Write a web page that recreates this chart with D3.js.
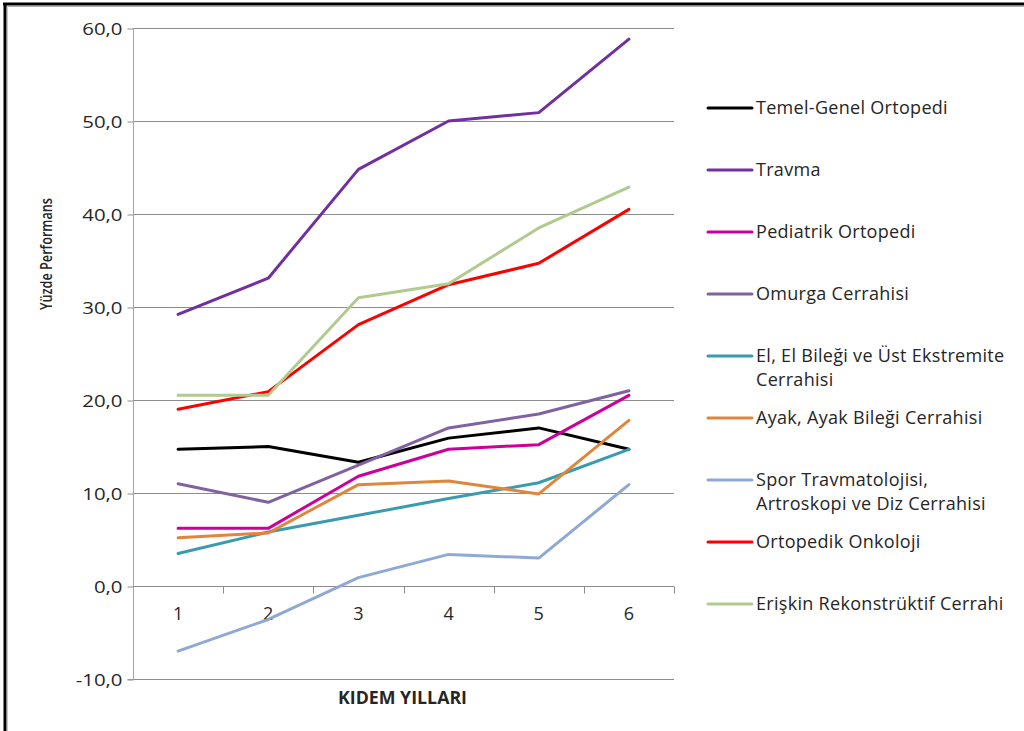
<!DOCTYPE html>
<html>
<head>
<meta charset="utf-8">
<script src="https://cdn.jsdelivr.net/npm/d3@7/dist/d3.min.js"></script>
<style>
  html, body { margin: 0; padding: 0; background: #fff; }
  svg { display: block; }
  text { font-family: "Open Sans", "Noto Sans", sans-serif; fill: #262626; }
</style>
</head>
<body>
<svg id="chart" width="1024" height="731"></svg>
<script>
// Seniority years on the x axis
const years = [1, 2, 3, 4, 5, 6];

// Series names (legend order)
const seriesNames = [
  "Temel-Genel Ortopedi",
  "Travma",
  "Pediatrik Ortopedi",
  "Omurga Cerrahisi",
  "El, El Bileği ve Üst Ekstremite Cerrahisi",
  "Ayak, Ayak Bileği Cerrahisi",
  "Spor Travmatolojisi, Artroskopi ve Diz Cerrahisi",
  "Ortopedik Onkoloji",
  "Erişkin Rekonstrüktif Cerrahi"
];

const seriesColors = [
  "#000000", "#7030A0", "#CC0099", "#7F62A0", "#3A9BB0",
  "#E0853C", "#8FA9D5", "#FF0000", "#B2CA8F"
];

// Percentage performance per year
const temelGenel  = [14.7, 15.0, 13.3, 15.9, 17.0, 14.7];
const travma      = [29.2, 33.1, 44.8, 50.0, 50.9, 58.8];
const pediatrik   = [6.2, 6.2, 11.8, 14.7, 15.2, 20.5];
const omurga      = [11.0, 9.0, 13.0, 17.0, 18.5, 21.0];
const elBilegi    = [3.5, 5.8, 7.6, 9.4, 11.1, 14.7];
const ayakBilegi  = [5.2, 5.7, 10.9, 11.3, 9.9, 17.8];
const spor        = [-7.0, -3.6, 0.9, 3.4, 3.0, 10.9];
const onkoloji    = [19.0, 20.9, 28.1, 32.4, 34.7, 40.5];
const eriskin     = [20.5, 20.5, 31.0, 32.5, 38.5, 42.9];

const seriesValues = [temelGenel, travma, pediatrik, omurga, elBilegi,
                      ayakBilegi, spor, onkoloji, eriskin];

// Y axis ticks
const yTicks = [-10, 0, 10, 20, 30, 40, 50, 60];
const yTickLabels = ["-10,0", "0,0", "10,0", "20,0", "30,0", "40,0", "50,0", "60,0"];

const xTitle = "KIDEM YILLARI";
const yTitle = "Yüzde Performans";

const svg = d3.select("#chart");

// Frame along the top and left edges
svg.append("line").attr("x1", 3).attr("x2", 1024).attr("y1", 4).attr("y2", 4)
  .attr("stroke", "#000").attr("stroke-width", 3);
svg.append("line").attr("x1", 4.5).attr("x2", 1024).attr("y1", 6.5).attr("y2", 6.5)
  .attr("stroke", "#b0b0b0").attr("stroke-width", 1);
svg.append("line").attr("x1", 5).attr("x2", 5).attr("y1", 3).attr("y2", 731)
  .attr("stroke", "#000").attr("stroke-width", 3);
svg.append("line").attr("x1", 7.5).attr("x2", 7.5).attr("y1", 6).attr("y2", 731)
  .attr("stroke", "#c8c8c8").attr("stroke-width", 1);

const plot = { left: 133, right: 674, top: 28, bottom: 679 };

const x = d3.scaleBand().domain(years).range([plot.left, plot.right]);
const y = d3.scaleLinear().domain([-10, 60]).range([plot.bottom, plot.top]);

// Horizontal gridlines
svg.append("g")
  .selectAll("line")
  .data(yTicks)
  .join("line")
  .attr("x1", plot.left).attr("x2", plot.right)
  .attr("y1", d => Math.round(y(d)) + 0.5).attr("y2", d => Math.round(y(d)) + 0.5)
  .attr("stroke", "#8c8c8c").attr("stroke-width", 1);

// Y axis
const yAxis = svg.append("g")
  .attr("transform", `translate(${plot.left + 0.5},0.5)`)
  .call(d3.axisLeft(y).tickValues(yTicks).tickSize(6).tickPadding(4)
        .tickFormat((d, i) => yTickLabels[i]));
yAxis.select(".domain").attr("stroke", "#a6a6a6").attr("d", `M-6,${Math.round(plot.bottom)}H0V${Math.round(plot.top)}`);
yAxis.selectAll(".tick line").attr("stroke", "#8c8c8c").attr("transform", (d) => `translate(0,${Math.round(y(d)) - y(d)})`);
yAxis.selectAll(".tick text")
  .attr("x", 0)
  .attr("dy", "0.36em")
  .attr("transform", "translate(-11,0) scale(1.2,1)")
  .style("font-family", "'Open Sans', sans-serif")
  .style("font-size", "17px")
  .attr("fill", "#333");

// X axis at zero, with tick marks between categories
const x0 = Math.round(y(0)) + 0.5;
const xAxisG = svg.append("g");
xAxisG.append("line")
  .attr("x1", plot.left).attr("x2", plot.right).attr("y1", x0).attr("y2", x0)
  .attr("stroke", "#8c8c8c");
xAxisG.selectAll("line.tick")
  .data(years)
  .join("line")
  .attr("class", "tick")
  .attr("x1", d => Math.round(x(d) + x.bandwidth()) + 0.5)
  .attr("x2", d => Math.round(x(d) + x.bandwidth()) + 0.5)
  .attr("y1", x0).attr("y2", x0 + 7)
  .attr("stroke", "#8c8c8c");
xAxisG.selectAll("text")
  .data(years)
  .join("text")
  .attr("x", d => x(d) + x.bandwidth() / 2)
  .attr("y", x0 + 33)
  .attr("text-anchor", "middle")
  .style("font-size", "18px")
  .attr("fill", "#333")
  .text(d => d);

// Series lines
const lineGen = d3.line()
  .x((d, i) => x(years[i]) + x.bandwidth() / 2)
  .y(d => y(d));

svg.append("g")
  .selectAll("path")
  .data(seriesValues)
  .join("path")
  .attr("d", d => lineGen(d))
  .attr("fill", "none")
  .attr("stroke", (d, i) => seriesColors[i])
  .attr("stroke-width", 3)
  .attr("stroke-linejoin", "round")
  .attr("stroke-linecap", "round");

// Axis titles (condensed to the available width)
svg.append("text")
  .attr("x", 338).attr("y", 704)
  .attr("textLength", 129).attr("lengthAdjust", "spacingAndGlyphs")
  .style("font-size", "18px").style("font-weight", "700")
  .attr("fill", "#000")
  .text(xTitle);

svg.append("text")
  .attr("transform", "translate(52,310) rotate(-90)")
  .attr("textLength", 112).attr("lengthAdjust", "spacingAndGlyphs")
  .style("font-size", "17px").style("font-weight", "600")
  .attr("fill", "#000")
  .text(yTitle);

// Legend
const legend = { x1: 708, x2: 752, textX: 756, top: 108, step: 62, lineH: 24, maxW: 262 };
const legendRow = svg.append("g")
  .selectAll("g")
  .data(seriesNames)
  .join("g")
  .attr("transform", (d, i) => `translate(0,${legend.top + i * legend.step})`);

legendRow.append("line")
  .attr("x1", legend.x1).attr("x2", legend.x2)
  .attr("y1", 0).attr("y2", 0)
  .attr("stroke", (d, i) => seriesColors[i])
  .attr("stroke-width", 3)
  .attr("stroke-linecap", "round");

legendRow.each(function (name) {
  const g = d3.select(this);
  const t = g.append("text")
    .attr("x", legend.textX).attr("y", 6)
    .style("font-size", "18px")
    .style("letter-spacing", "0.3px")
    .attr("fill", "#262626");
  // word wrap within the legend width
  const words = name.split(" ");
  let line = [];
  let tspan = t.append("tspan").attr("x", legend.textX).attr("dy", 0);
  words.forEach(w => {
    line.push(w);
    tspan.text(line.join(" "));
    if (tspan.node().getComputedTextLength() > legend.maxW && line.length > 1) {
      line.pop();
      tspan.text(line.join(" "));
      line = [w];
      tspan = t.append("tspan").attr("x", legend.textX).attr("dy", legend.lineH).text(w);
    }
  });
});
</script>
</body>
</html>
